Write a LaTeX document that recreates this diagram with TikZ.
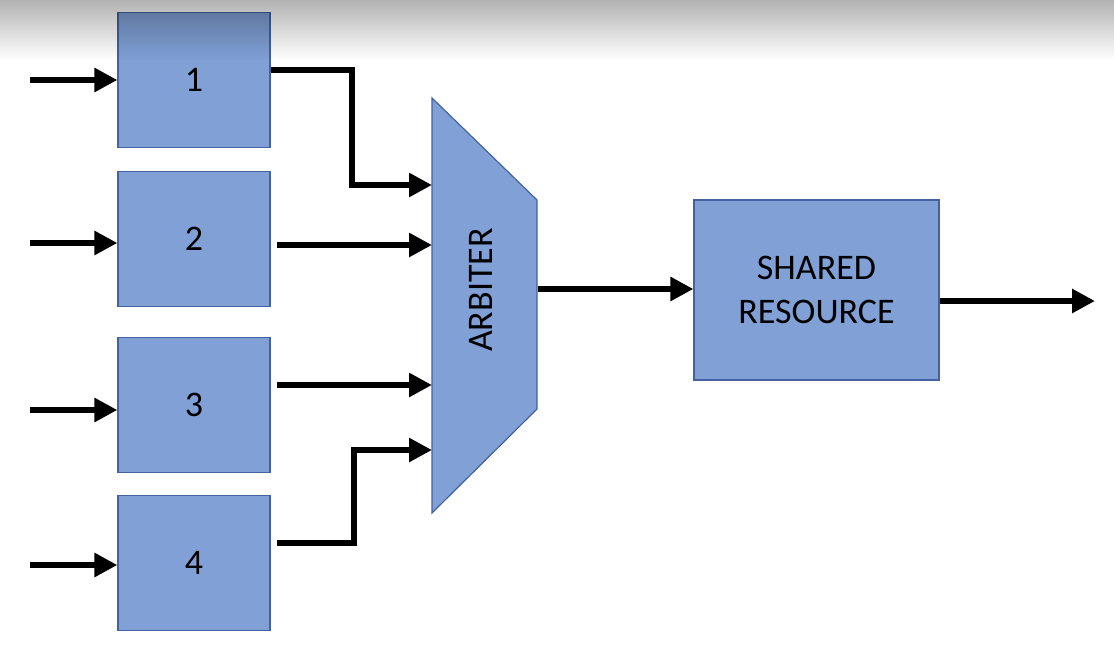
\documentclass[tikz,border=0pt]{standalone}
\usepackage{fontspec}
\setmainfont{Carlito}
\usetikzlibrary{arrows.meta,fadings}
\definecolor{blockfill}{RGB}{128,160,214}
\definecolor{blockline}{RGB}{68,98,160}
\tikzset{
  block/.style={draw=blockline, fill=blockfill, line width=1.2pt, inner sep=0pt,
    align=center, font=\fontsize{36}{44}\selectfont},
  reqbox/.style={block, minimum width=152pt, minimum height=135pt},
  conn/.style={line width=6.5pt, -{Triangle[length=23pt,width=23pt]}}
}
\begin{document}
\begin{tikzpicture}[x=1pt,y=-1pt]
\useasboundingbox (0,0) rectangle (1115,661);
\node[reqbox] (b1) at (194,80) {1};
\node[reqbox] (b2) at (194,239) {2};
\node[reqbox] (b3) at (194,405) {3};
\node[reqbox] (b4) at (194,563) {4};
\foreach \i/\y in {1/80,2/243,3/410,4/565} {
  \coordinate (src\i) at (30,\y);
  \draw[conn] (src\i) -- (b\i.west |- src\i);
}
% arbiter
\draw[block] (432,98) -- (537,200) -- (537,409) -- (432,513) -- cycle;
\node[font=\fontsize{36}{44}\selectfont, rotate=90] (arbiter) at (481,290) {ARBITER};
\coordinate (in1) at (432,185);
\coordinate (in2) at (432,245);
\coordinate (in3) at (432,385);
\coordinate (in4) at (432,450);
\coordinate (bend1) at (352,185);
\coordinate (bend4) at (354,450);
\coordinate (arbout) at (538,289);
\node[block, minimum width=245pt, minimum height=180pt] (shared) at (816.5,290) {SHARED\\RESOURCE};
\coordinate (sink) at (1095,301);
\draw[conn] ([yshift=10pt]b1.east) -| (bend1) -- (in1);
\draw[conn] ([xshift=6pt]b2.east |- in2) -- (in2);
\draw[conn] ([xshift=6pt]b3.east |- in3) -- (in3);
\draw[conn] ([xshift=6pt,yshift=20pt]b4.east) -| (bend4) -- (in4);
\draw[conn] (arbout) -- (shared.west |- arbout);
\draw[conn] (shared.east |- sink) -- (sink);
% top shadow
\fill[black, opacity=0.3, path fading=south] (0,0) rectangle (1115,60);
\end{tikzpicture}
\end{document}
